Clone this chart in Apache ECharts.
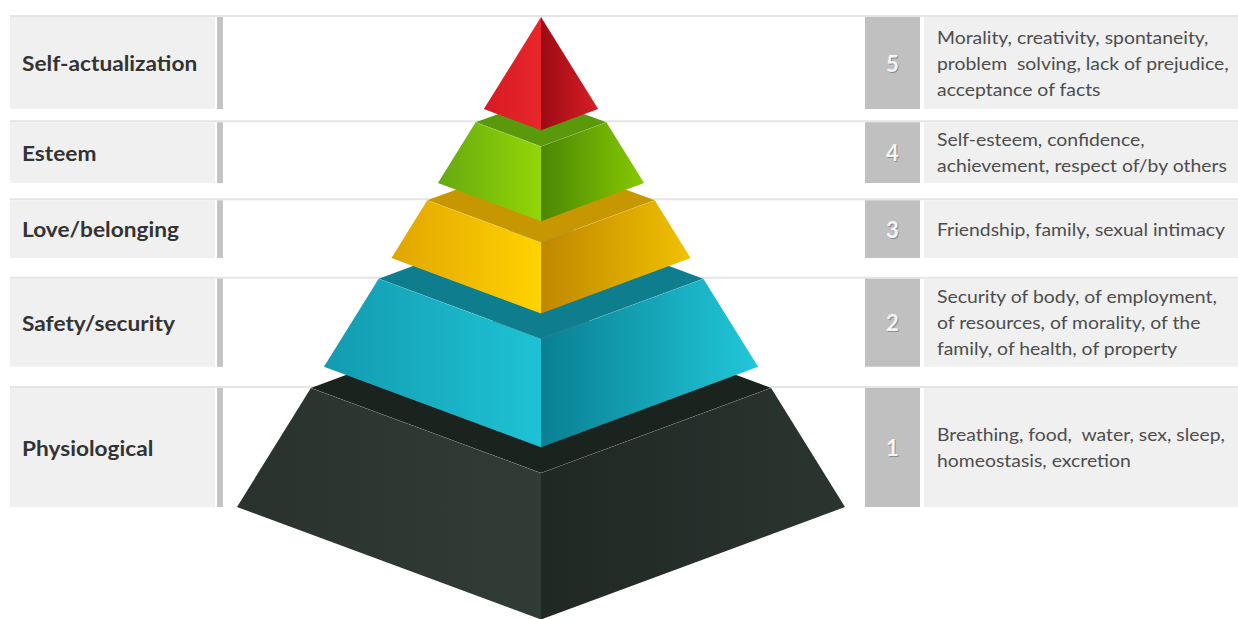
<!DOCTYPE html>
<html>
<head>
<meta charset="utf-8">
<title>Hierarchy of needs</title>
<script src="https://cdn.jsdelivr.net/npm/echarts@6/dist/echarts.min.js"></script>
<style>
  html, body { margin: 0; padding: 0; background: #ffffff; }
  #chart { width: 1238px; height: 619px; }
</style>
</head>
<body>
<div id="chart"></div>
<script>
// Levels, listed from the top of the pyramid down
const levelNames = ['Self-actualization', 'Esteem', 'Love/belonging', 'Safety/security', 'Physiological'];
const levelNumbers = ['5', '4', '3', '2', '1'];
const levelNeeds = [
  'Morality, creativity, spontaneity,\nproblem  solving, lack of prejudice,\nacceptance of facts',
  'Self-esteem, confidence,\nachievement, respect of/by others',
  'Friendship, family, sexual intimacy',
  'Security of body, of employment,\nof resources, of morality, of the\nfamily, of health, of property',
  'Breathing, food,  water, sex, sleep,\nhomeostasis, excretion'
];
// Where each slice starts and ends, as a share of the pyramid height measured from the apex
const sliceTop = [0, 0.215, 0.374, 0.534, 0.757];
const sliceBottom = [0.188, 0.339, 0.492, 0.714, 1];

// Face shading for each slice: flat top, and left/right faces shaded edge -> ridge
const faceColors = [
  { top: '#b0121a', left: ['#d71a22', '#e8262c'], right: ['#9c0b14', '#d81e26'] },
  { top: '#5a990b', left: ['#66a910', '#93d606'], right: ['#4b8706', '#86c900'] },
  { top: '#c69700', left: ['#e1a500', '#ffd300'], right: ['#c08700', '#f1c100'] },
  { top: '#0e7d8d', left: ['#139bb0', '#1ec2d4'], right: ['#0a8093', '#21c7d9'] },
  { top: '#1b231f', left: ['#29322d', '#323c37'], right: ['#202824', '#2b3530'] }
];

// Drop of the front corner of a square cross-section, per pixel of half-width
const DEPTH = 0.37;
const FONT = 'Lato, "Open Sans", sans-serif';

const rowData = levelNames.map((_, i) => [i, sliceTop[i], sliceBottom[i]]);
// paint the base first so upper slices cover the top faces below them
const sliceData = levelNames.map((_, i) => [i, sliceTop[i], sliceBottom[i]]).reverse();

function linear(stops) {
  return {
    type: 'linear', x: 0, y: 0, x2: 1, y2: 0,
    colorStops: [{ offset: 0, color: stops[0] }, { offset: 1, color: stops[1] }]
  };
}

function renderRow(params, api) {
  const i = api.value(0);
  const yTop = api.coord([0, api.value(1)])[1];
  const yBot = api.coord([0, api.value(2)])[1];
  const h = yBot - yTop;
  const mid = (yTop + yBot) / 2;
  return {
    type: 'group',
    children: [
      { type: 'rect', shape: { x: 10, y: yTop - 2, width: 1228, height: 2 }, style: { fill: '#e5e5e5' } },
      { type: 'rect', shape: { x: 10, y: yTop, width: 205, height: h }, style: { fill: '#f0f0f0' } },
      { type: 'rect', shape: { x: 217, y: yTop, width: 6, height: h }, style: { fill: '#c4c4c4' } },
      {
        type: 'text', x: 22, y: mid, scaleX: 1.08,
        style: {
          text: levelNames[i], x: 0, y: 0, align: 'left', verticalAlign: 'middle',
          fontFamily: FONT, fontSize: 21, fontWeight: 'bold', fill: '#333333'
        }
      },
      { type: 'rect', shape: { x: 865, y: yTop, width: 55, height: h }, style: { fill: '#c0c0c0' } },
      {
        type: 'text',
        style: {
          text: levelNumbers[i], x: 893.5, y: mid + 1, align: 'center', verticalAlign: 'middle',
          fontFamily: FONT, fontSize: 22, fontWeight: 'bold', fill: '#8c8c8c'
        }
      },
      {
        type: 'text',
        style: {
          text: levelNumbers[i], x: 892.5, y: mid, align: 'center', verticalAlign: 'middle',
          fontFamily: FONT, fontSize: 22, fontWeight: 'bold', fill: '#f4f4f4'
        }
      },
      { type: 'rect', shape: { x: 924, y: yTop, width: 314, height: h }, style: { fill: '#f0f0f0' } },
      {
        type: 'text', x: 937, y: mid, scaleX: 1.14,
        style: {
          text: levelNeeds[i], x: 0, y: 0, align: 'left', verticalAlign: 'middle',
          fontFamily: FONT, fontSize: 17, lineHeight: 26, fill: '#4d4d4d'
        }
      }
    ]
  };
}

function renderSlice(params, api) {
  const i = api.value(0);
  const t0 = api.value(1);
  const t1 = api.value(2);
  const cx = api.coord([0, 0])[0];
  const a = api.coord([-t0, t0]);
  const b = api.coord([-t1, t1]);
  const w0 = cx - a[0], w1 = cx - b[0];
  const y0 = a[1], y1 = b[1];
  const TL = [cx - w0, y0], TR = [cx + w0, y0];
  const TF = [cx, y0 + DEPTH * w0], TB = [cx, y0 - DEPTH * w0];
  const BL = [cx - w1, y1], BR = [cx + w1, y1], BF = [cx, y1 + DEPTH * w1];
  const c = faceColors[i];
  const kids = [];
  if (w0 > 0.5) {
    kids.push({ type: 'polygon', shape: { points: [TL, TF, TR, TB] }, style: { fill: c.top } });
  }
  kids.push({ type: 'polygon', shape: { points: [TL, TF, BF, BL] }, style: { fill: linear(c.left) } });
  kids.push({ type: 'polygon', shape: { points: [TF, TR, BR, BF] }, style: { fill: linear(c.right) } });
  if (w0 > 0.5) {
    kids.push({
      type: 'polyline', shape: { points: [TL, TF, TR] },
      style: { stroke: 'rgba(255,255,255,0.12)', lineWidth: 1, fill: null }
    });
  }
  return { type: 'group', children: kids };
}

const chart = echarts.init(document.getElementById('chart'), null, { renderer: 'svg' });
chart.setOption({
  animation: false,
  backgroundColor: '#ffffff',
  grid: { left: 237, top: 17, width: 608, height: 490 },
  xAxis: { type: 'value', min: -1, max: 1, show: false },
  yAxis: { type: 'value', min: 0, max: 1, inverse: true, show: false },
  series: [
    { type: 'custom', name: 'rows', renderItem: renderRow, data: rowData, z: 1, silent: true },
    { type: 'custom', name: 'pyramid', renderItem: renderSlice, data: sliceData, z: 2, silent: true }
  ]
});
</script>
</body>
</html>
